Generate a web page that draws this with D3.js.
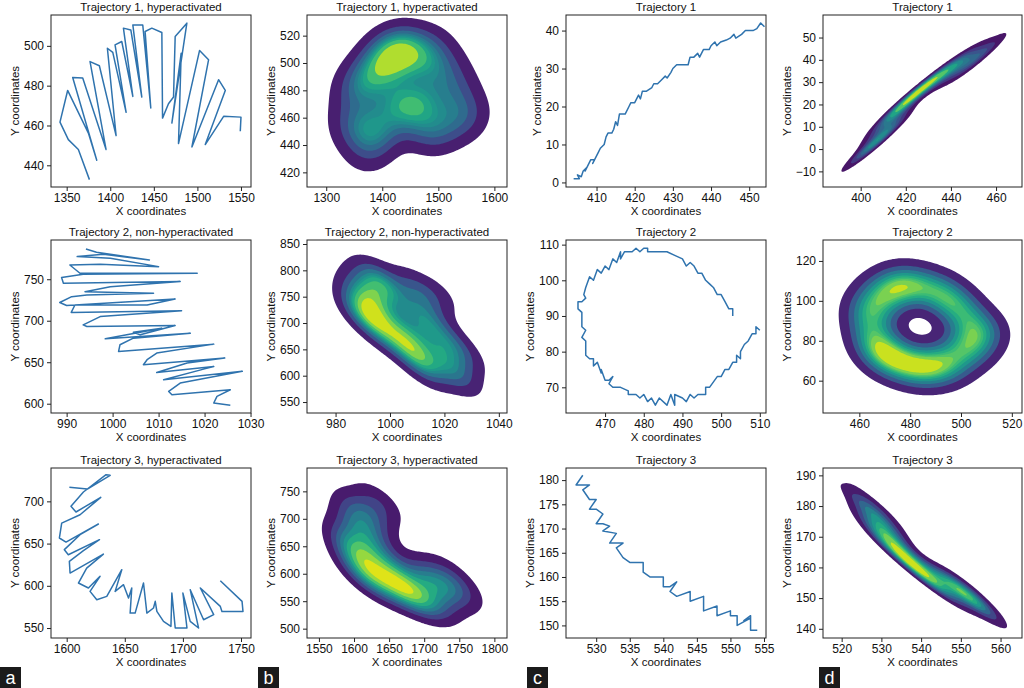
<!DOCTYPE html>
<html>
<head>
<meta charset="utf-8">
<script src="https://cdn.jsdelivr.net/npm/d3@7"></script>
<style>
body { margin: 0; background: #fff; }
svg { display: block; font-family: "Liberation Sans", Arial, sans-serif; }
</style>
</head>
<body>
<svg id="fig" width="1024" height="688"></svg>
<script>
// trajectories read off column a (hyperactivated / non-hyperactivated)
const aTraj1X = [1376.1,1363.4,1351.9,1342.3,1351.1,1374.9,1384.5,1356.9,1368.4,1395.2,1376.8,1387.5,1406.7,1396.7,1402.9,1418.2,1405.5,1413.2,1425.9,1415.1,1423.6,1436.2,1425.9,1437.3,1446.5,1440.0,1447.7,1459.2,1460.0,1466.8,1472.6,1474.5,1487.9,1470.7,1481.4,1478.3,1502.5,1512.8,1493.7,1524.3,1532.0,1509.0,1530.1,1550.0,1549.2];
const aTraj1Y = [432.8,447.9,452.9,461.7,477.6,456.2,442.5,484.1,483.8,447.9,492.1,490.0,454.9,498.8,496.7,466.6,500.5,502.2,474.6,508.9,508.0,474.3,510.5,510.5,468.8,507.2,508.9,506.7,463.7,470.9,474.3,504.7,511.4,461.2,496.3,450.9,497.7,493.0,449.2,483.0,477.6,450.4,464.6,464.2,457.1];

const aTraj2X = [994.2,996.5,1008.0,998.0,992.3,999.5,1010.0,997.3,990.7,992.9,1018.4,993.6,988.9,989.3,1014.7,999.5,994.0,1008.9,994.4,991.1,988.5,990.0,1013.6,1007.5,991.8,991.0,1015.0,997.3,993.6,994.4,1013.6,1006.0,1004.5,1010.7,998.4,1016.9,1004.5,1001.6,1001.3,1022.0,1009.6,1007.5,1006.7,1024.4,1016.2,1009.6,1022.0,1020.0,1011.1,1028.2,1014.7,1012.2,1012.9,1025.6,1022.7,1022.0,1025.6];
const aTraj2Y = [786.5,782.5,773.3,780.0,777.3,775.3,765.2,768.0,767.2,757.2,757.2,756.0,752.0,745.2,747.2,741.0,735.0,733.2,731.0,729.0,722.0,718.3,726.3,719.0,719.0,710.0,711.9,705.0,695.0,693.0,694.2,683.0,686.0,691.0,678.2,685.0,679.0,671.0,663.0,671.8,661.0,653.0,647.0,655.0,649.0,637.7,644.9,642.0,628.9,639.0,624.9,614.8,610.8,616.8,608.8,600.8,598.0];

const aTraj3X = [1602.3,1617.8,1637.4,1633.9,1614.4,1603.7,1608.0,1629.3,1611.5,1595.7,1593.7,1599.4,1627.3,1611.5,1598.0,1601.4,1628.2,1614.4,1602.3,1602.9,1631.6,1617.2,1610.1,1618.7,1628.7,1620.1,1625.9,1634.5,1647.4,1641.7,1648.9,1653.2,1656.0,1654.6,1658.9,1666.1,1669.0,1674.7,1676.2,1677.6,1683.3,1689.7,1690.5,1693.4,1703.5,1700.0,1706.3,1713.5,1706.3,1717.8,1726.5,1715.0,1732.2,1733.6,1751.7,1750.9,1732.2];
const aTraj3Y = [716.6,714.6,730.8,731.6,711.1,694.1,687.4,704.7,684.2,674.3,656.6,651.8,673.2,660.5,642.8,636.8,654.6,641.6,628.9,615.1,637.6,621.0,603.3,597.4,611.2,593.4,583.5,587.5,619.1,593.4,601.3,585.5,597.4,567.7,567.7,603.3,567.7,573.7,581.6,569.7,557.9,551.9,591.4,550.0,550.0,591.4,557.9,550.0,595.4,559.8,565.8,597.4,575.6,569.7,569.7,581.6,606.0];

const cTraj1X = [404,405.5,405,406,406.5,407.5,407,408.5,409.5,409,410.5,411,412,412.5,413,414,414.5,415,415.5,416,417,417.5,418.5,419,420,421,421.5,422,423,424.5,425,426,427,428,428.5,429.5,430,431,432,433,434,434.5,435.5,436.5,437,438,439.5,440,441,441.5,442.5,444,445,446,446.5,448,449,450,451,452,453,454];
const cTraj1Y = [1,1,2,1.5,3,4,3,6,6,5,8,9,10,12,13,13,14,16,15,18,18,18,20,21,21,23,22,24,24,25,26,26,27,28,27.5,29,30,31,31,31,31,33,33,34,33,35,35,36,37,36,37,37.5,38,39,38,39,40,40,40,40.5,42,41];

const cTraj2X = [503,503,502,501,500,499,498,497,496,495,494,493,492,491,490,488,486,484,481,481,480,479,478,477,475,474,474,473,472,471,470,469,468,467,466,465,464.5,465,464,463,463,464,464,465,464,465,465,466,467,467,468,469,469,470,471,472,471,472,474,476,476,478,479,480,481,482,483,484,486,487,488,488,490,491,492,493,494,496,496,497,499,500,501,502,503,504,504,505,505,506,507,508,509,509,510];
const cTraj2Y = [90,92,92,94,96,96,98,99,100,102,102,104,105,104,106,107,108,108,108,109,109,108,109,108,108,106,108,105,106,103,104,102,103,100,101,98,96,95,94,94,92,91,87,86,84,83,79,78,78,76,77,74,75,72,72,73,71,70,70,69,68,68,67,68,66,67,65,67,65,68,65,68,67,66,68,67,68,68,70,70,73,73,75,75,77,77,79,78,80,82,83,85,85,87,86];

const cTraj3X = [528,527,529,528,529,530,529,530,531,530,531,532,531,533,532,533,534,533,534,535,537,537,538,540,540,541,542,541,542,544,544,546,546,548,548,550,550,551,551,553,552,553,553,554];
const cTraj3Y = [181,179,179,178,176,176,174,174,173,171,171,170.5,169.5,169,167,167,167,166,164,163,163,161,160,160,158,158,159,157,156,157,155,156,153,154,152,153,152,152,150,151.5,151,152,149,149];

// tick labels
const aTicks1X = [1350,1400,1450,1500,1550], aTicks1Y = [440,460,480,500];
const aTicks2X = [990,1000,1010,1020,1030], aTicks2Y = [600,650,700,750];
const aTicks3X = [1600,1650,1700,1750],     aTicks3Y = [550,600,650,700];
const bTicks1X = [1300,1400,1500,1600],     bTicks1Y = [420,440,460,480,500,520];
const bTicks2X = [980,1000,1020,1040],      bTicks2Y = [550,600,650,700,750,800,850];
const bTicks3X = [1550,1600,1650,1700,1750,1800], bTicks3Y = [500,550,600,650,700,750];
const cTicks1X = [410,420,430,440,450],     cTicks1Y = [0,10,20,30,40];
const cTicks2X = [470,480,490,500,510],     cTicks2Y = [70,80,90,100,110];
const cTicks3X = [530,535,540,545,550,555], cTicks3Y = [150,155,160,165,170,175,180];
const dTicks1X = [400,420,440,460],         dTicks1Y = [-10,0,10,20,30,40,50];
const dTicks2X = [460,480,500,520],         dTicks2Y = [60,80,100,120];
const dTicks3X = [520,530,540,550,560],     dTicks3Y = [140,150,160,170,180,190];

const panelLetters = ["a", "b", "c", "d"];

// layout
const colLeft = [51, 307, 566, 823];
const colWidth = [200, 200, 200, 199];
const rowTop = [15, 240, 468];
const rowHeight = [172, 173, 170];
const letterX = [0, 258, 527, 819];

const panels = [
	{col:0, row:0, kind:"line", title:"Trajectory 1, hyperactivated", xs:aTraj1X, ys:aTraj1Y, xDom:[1332,1561.5], yDom:[429.1,515.5], xt:aTicks1X, yt:aTicks1Y},
	{col:0, row:1, kind:"line", title:"Trajectory 2, non-hyperactivated", xs:aTraj2X, ys:aTraj2Y, xDom:[986.6,1030.1], yDom:[588.8,797.3], xt:aTicks2X, yt:aTicks2Y},
	{col:0, row:2, kind:"line", title:"Trajectory 3, hyperactivated", xs:aTraj3X, ys:aTraj3Y, xDom:[1586.5,1758.6], yDom:[538.2,739.5], xt:aTicks3X, yt:aTicks3Y},
	{col:1, row:0, kind:"kde", title:"Trajectory 1, hyperactivated", xs:aTraj1X, ys:aTraj1Y, xDom:[1265.7,1622.5], yDom:[409.3,535.1], xt:bTicks1X, yt:bTicks1Y},
	{col:1, row:1, kind:"kde", title:"Trajectory 2, non-hyperactivated", xs:aTraj2X, ys:aTraj2Y, xDom:[969.5,1043], yDom:[529.2,857.6], xt:bTicks2X, yt:bTicks2Y},
	{col:1, row:2, kind:"kde", title:"Trajectory 3, hyperactivated", xs:aTraj3X, ys:aTraj3Y, xDom:[1533,1818], yDom:[483,792.5], xt:bTicks3X, yt:bTicks3Y},
	{col:2, row:0, kind:"line", title:"Trajectory 1", xs:cTraj1X, ys:cTraj1Y, xDom:[402.0,454.4], yDom:[-1.2,44.1], xt:cTicks1X, yt:cTicks1Y},
	{col:2, row:1, kind:"line", title:"Trajectory 2", xs:cTraj2X, ys:cTraj2Y, xDom:[459.9,511.6], yDom:[62.8,111.3], xt:cTicks2X, yt:cTicks2Y},
	{col:2, row:2, kind:"line", title:"Trajectory 3", xs:cTraj3X, ys:cTraj3Y, xDom:[525.5,555.3], yDom:[147.4,182.5], xt:cTicks3X, yt:cTicks3Y},
	{col:3, row:0, kind:"kde", title:"Trajectory 1", xs:cTraj1X, ys:cTraj1Y, xDom:[383.3,471.5], yDom:[-17,60.1], xt:dTicks1X, yt:dTicks1Y},
	{col:3, row:1, kind:"kde", title:"Trajectory 2", xs:cTraj2X, ys:cTraj2Y, xDom:[445.7,524], yDom:[43.8,130.5], xt:dTicks2X, yt:dTicks2Y},
	{col:3, row:2, kind:"kde", title:"Trajectory 3", xs:cTraj3X, ys:cTraj3Y, xDom:[515.3,565.4], yDom:[137,192.4], xt:dTicks3X, yt:dTicks3Y}
];

// gaussian kde, scott's rule, full covariance (like scipy)
function gaussianKde(xs, ys){
	let n = xs.length;
	let mx = d3.mean(xs), my = d3.mean(ys);
	let sxx = 0, syy = 0, sxy = 0;
	for (let i = 0; i < n; i++){
		let dx = xs[i]-mx, dy = ys[i]-my;
		sxx += dx*dx; syy += dy*dy; sxy += dx*dy;
	}
	let f2 = Math.pow(n, -1/3);
	let a = sxx/(n-1)*f2, b = sxy/(n-1)*f2, c = syy/(n-1)*f2;
	let det = a*c - b*b;
	let ia = c/det, ib = -b/det, ic = a/det;
	return function(x, y){
		let s = 0;
		for (let i = 0; i < n; i++){
			let dx = x-xs[i], dy = y-ys[i];
			s += Math.exp(-0.5*(ia*dx*dx + 2*ib*dx*dy + ic*dy*dy));
		}
		return s;
	};
}

// iso-proportion levels the way seaborn picks them
function isoLevels(values, nLevels, thresh){
	let sorted = Array.from(values).sort((p, q) => q-p);
	let total = d3.sum(sorted);
	let cum = [], acc = 0;
	sorted.forEach(v => { acc += v; cum.push(acc/total); });
	return d3.range(nLevels).map(k => {
		let prop = thresh + (1-thresh)*k/(nLevels-1);
		let idx = Math.min(d3.bisectLeft(cum, 1-prop), sorted.length-1);
		return sorted[idx];
	});
}

function drawDensity(plot, p, x, y, w, h){
	let cell = 1.5;
	let nx = Math.ceil(w/cell), ny = Math.ceil(h/cell);
	let kde = gaussianKde(p.xs, p.ys);
	let values = new Float64Array(nx*ny);
	for (let j = 0; j < ny; j++)
		for (let i = 0; i < nx; i++)
			values[j*nx+i] = kde(x.invert((i+0.5)*cell), y.invert((j+0.5)*cell));
	let levels = isoLevels(values, 10, 0.05);
	let lo = levels[0], hi = levels[levels.length-1];
	let contours = d3.contours().size([nx, ny]).thresholds(levels.slice(0, -1))(values);
	let path = d3.geoPath(d3.geoIdentity().scale(cell));
	plot.selectAll("path.band")
		.data(contours)
		.join("path")
		.attr("class", "band")
		.attr("d", path)
		.attr("fill", (d, k) => d3.interpolateViridis(((levels[k]+levels[k+1])/2 - lo)/(hi-lo)));
}

const svg = d3.select("#fig");
svg.append("rect").attr("width", 1024).attr("height", 688).attr("fill", "#fff");

panels.forEach((p, idx) => {
	let w = colWidth[p.col], h = rowHeight[p.row];
	let g = svg.append("g").attr("transform", "translate(" + colLeft[p.col] + "," + rowTop[p.row] + ")");
	let x = d3.scaleLinear().domain(p.xDom).range([0, w]);
	let y = d3.scaleLinear().domain(p.yDom).range([h, 0]);

	g.append("clipPath").attr("id", "clip" + idx)
		.append("rect").attr("width", w).attr("height", h);
	let plot = g.append("g").attr("clip-path", "url(#clip" + idx + ")");

	if (p.kind == "line"){
		plot.append("path")
			.datum(d3.zip(p.xs, p.ys))
			.attr("d", d3.line().x(d => x(d[0])).y(d => y(d[1])))
			.attr("fill", "none")
			.attr("stroke", "#2f73ae")
			.attr("stroke-width", 1.5)
			.attr("stroke-linejoin", "round");
	}
	else {
		drawDensity(plot, p, x, y, w, h);
	}

	g.append("rect")
		.attr("width", w).attr("height", h)
		.attr("fill", "none").attr("stroke", "#222").attr("stroke-width", 1);

	let xa = g.append("g")
		.attr("transform", "translate(0," + h + ")")
		.call(d3.axisBottom(x).tickValues(p.xt).tickFormat(d3.format("d")).tickSize(4).tickPadding(2));
	let ya = g.append("g")
		.call(d3.axisLeft(y).tickValues(p.yt).tickFormat(d3.format("d")).tickSize(4).tickPadding(3));
	[xa, ya].forEach(a => {
		a.attr("font-size", 12).attr("font-family", null);
		a.select(".domain").remove();
		a.selectAll(".tick line").attr("stroke", "#222");
		a.selectAll(".tick text").attr("fill", "#111");
	});

	g.append("text")
		.attr("x", w/2).attr("y", -4)
		.attr("text-anchor", "middle")
		.attr("font-size", 11.5)
		.attr("fill", "#111")
		.text(p.title);

	g.append("text")
		.attr("x", w/2).attr("y", h + 28)
		.attr("text-anchor", "middle")
		.attr("font-size", 11.5)
		.attr("fill", "#111")
		.text("X coordinates");

	let bb = ya.node().getBBox();
	g.append("text")
		.attr("transform", "translate(" + (bb.x - 5) + "," + (h/2) + ") rotate(-90)")
		.attr("text-anchor", "middle")
		.attr("font-size", 11.5)
		.attr("fill", "#111")
		.text("Y coordinates");
});

// panel letters
panelLetters.forEach((l, i) => {
	svg.append("rect")
		.attr("x", letterX[i]).attr("y", 667)
		.attr("width", 21).attr("height", 21)
		.attr("fill", "#1b1b1b");
	svg.append("text")
		.attr("x", letterX[i] + 10.5).attr("y", 684)
		.attr("text-anchor", "middle")
		.attr("font-size", 18)
		.attr("fill", "#fff")
		.text(l);
});
</script>
</body>
</html>
